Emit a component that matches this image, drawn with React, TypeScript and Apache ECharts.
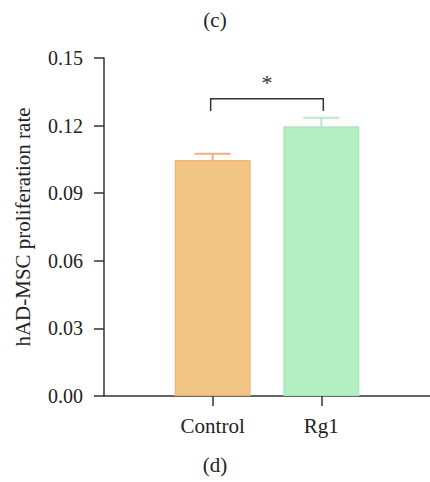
import React, { useEffect, useRef } from "react";
import * as echarts from "echarts";

const categories = ["Control", "Rg1"];
const means = [0.1047, 0.1197];
const errors = [0.0028, 0.0038];
const barColors = ["#f3c585", "#b3efc3"];
const barBorders = ["#f0b676", "#a6e9b8"];
const errColors = ["#f4ad7c", "#bfe6c6"];
const yTicks = [0, 0.03, 0.06, 0.09, 0.12, 0.15];
const sigPair = ["Control", "Rg1"];
const sigLevel = 0.1319;
const sigDrop = 0.1265;
const sigMark = "*";

const FONT = "'Liberation Serif', 'DejaVu Serif', serif";
const FS = 21;

export default function App() {
  const ref = useRef<HTMLDivElement>(null);
  useEffect(() => {
    if (!ref.current) return;
    const chart = echarts.init(ref.current, undefined, { renderer: "svg" });
    const axisCats = ["", ...categories, ""];
    const option = {
      animation: false,
      backgroundColor: "#ffffff",
      title: [
        { text: "(c)", left: "center", top: 4, textStyle: { fontFamily: FONT, fontSize: FS, fontWeight: "normal", color: "#222" } },
        { text: "(d)", left: "center", top: 449, textStyle: { fontFamily: FONT, fontSize: FS, fontWeight: "normal", color: "#222" } },
      ],
      grid: { left: 104, top: 58, width: 330, height: 338, containLabel: false },
      xAxis: {
        type: "category",
        data: axisCats,
        boundaryGap: false,
        axisLine: { show: true, lineStyle: { color: "#333", width: 1.5 } },
        axisTick: {
          show: true,
          length: 10,
          lineStyle: { color: "#333", width: 1.5 },
          interval: (i: number) => i > 0 && i < axisCats.length - 1,
        },
        axisLabel: {
          interval: (i: number) => i > 0 && i < axisCats.length - 1,
          margin: 19,
          fontFamily: FONT,
          fontSize: FS,
          color: "#222",
        },
        splitLine: { show: false },
      },
      yAxis: {
        type: "value",
        min: yTicks[0],
        max: yTicks[yTicks.length - 1],
        interval: 0.03,
        name: "hAD-MSC proliferation rate",
        nameLocation: "middle",
        nameGap: 71,
        nameTextStyle: { fontFamily: FONT, fontSize: 21, color: "#222" },
        axisLine: { show: true, lineStyle: { color: "#333", width: 1.5 } },
        axisTick: { show: true, length: 10, lineStyle: { color: "#333", width: 1.5 } },
        axisLabel: {
          margin: 21,
          fontFamily: FONT,
          fontSize: 20,
          color: "#222",
          formatter: (v: number) => v.toFixed(2),
        },
        splitLine: { show: false },
      },
      series: [
        {
          type: "bar",
          barWidth: 76,
          data: categories.map((c, i) => ({
            value: [c, means[i]],
            itemStyle: { color: barColors[i], borderColor: barBorders[i], borderWidth: 1.5 },
          })),
        },
        {
          type: "custom",
          data: categories.map((c, i) => [c, means[i], errors[i], i]),
          renderItem: (params: any, api: any) => {
            const cat = api.value(0);
            const m = api.value(1);
            const e = api.value(2);
            const idx = api.value(3);
            const base = api.coord([cat, m]);
            const top = api.coord([cat, m + e]);
            const half = 18;
            const style = { stroke: errColors[idx], lineWidth: 2 };
            return {
              type: "group",
              children: [
                { type: "line", shape: { x1: base[0], y1: base[1], x2: top[0], y2: top[1] }, style },
                { type: "line", shape: { x1: top[0] - half, y1: top[1], x2: top[0] + half, y2: top[1] }, style },
              ],
            };
          },
          z: 3,
        },
        {
          type: "custom",
          data: [[sigPair[0], sigPair[1], sigLevel, sigDrop]],
          renderItem: (params: any, api: any) => {
            const a = api.coord([sigPair[0], api.value(2)]);
            const b = api.coord([sigPair[1], api.value(2)]);
            const da = api.coord([sigPair[0], api.value(3)]);
            const style = { stroke: "#333", lineWidth: 1.5, fill: "none" };
            return {
              type: "group",
              children: [
                {
                  type: "polyline",
                  shape: { points: [[a[0] - 2, da[1]], [a[0] - 2, a[1]], [b[0] + 2, a[1]], [b[0] + 2, da[1]]] },
                  style,
                },
                {
                  type: "text",
                  style: {
                    text: sigMark,
                    x: (a[0] + b[0]) / 2,
                    y: a[1] - 5,
                    textAlign: "center",
                    textVerticalAlign: "bottom",
                    fontFamily: FONT,
                    fontSize: 22,
                    fill: "#333",
                  },
                },
              ],
            };
          },
          z: 4,
        },
      ],
    };
    chart.setOption(option as any);
    return () => chart.dispose();
  }, []);
  return (
    <div
      ref={ref}
      style={{ position: "absolute", left: 0, top: 0, width: 430, height: 482 }}
    />
  );
}
